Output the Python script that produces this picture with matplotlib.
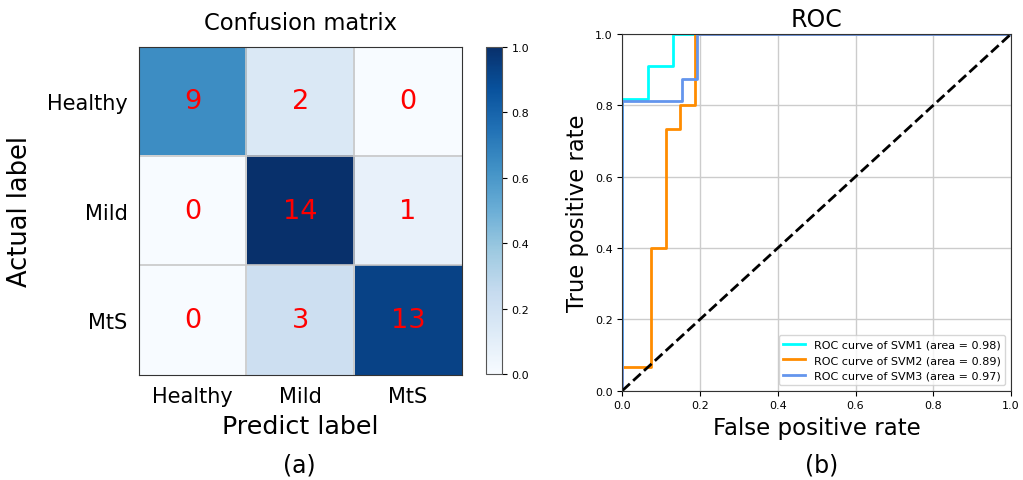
import matplotlib
matplotlib.use("Agg")
import matplotlib.pyplot as plt
import numpy as np

# confusion matrix counts (rows = actual, cols = predicted)
classes = ["Healthy", "Mild", "MtS"]
cm = np.array([[9, 2, 0],
               [0, 14, 1],
               [0, 3, 13]])

# ROC step curves
fpr_svm1 = [0, 0, 0.065, 0.065, 0.13, 0.13, 1]
tpr_svm1 = [0, 0.818, 0.818, 0.909, 0.909, 1, 1]
fpr_svm2 = [0, 0, 0.075, 0.075, 0.112, 0.112, 0.148, 0.148, 0.186, 0.186, 1]
tpr_svm2 = [0, 0.067, 0.067, 0.4, 0.4, 0.733, 0.733, 0.8, 0.8, 1, 1]
fpr_svm3 = [0, 0, 0.154, 0.154, 0.191, 0.191, 1]
tpr_svm3 = [0, 0.8125, 0.8125, 0.875, 0.875, 1, 1]
labels = ["ROC curve of SVM1 (area = 0.98)",
          "ROC curve of SVM2 (area = 0.89)",
          "ROC curve of SVM3 (area = 0.97)"]
colors = ["aqua", "darkorange", "cornflowerblue"]

fig = plt.figure(figsize=(10.23, 4.81), dpi=100)

# ---- (a) confusion matrix
ax1 = fig.add_axes([0.1356, 0.2189, 0.316, 0.682])
im = ax1.imshow(cm / cm.max(), cmap="Blues", vmin=0, vmax=1, aspect="auto")
for i in range(3):
    for j in range(3):
        ax1.text(j, i, str(cm[i, j]), ha="center", va="center",
                 color="red", fontsize=19.5)
ax1.set_xticks(range(3))
ax1.set_xticklabels(classes, fontsize=15)
ax1.set_yticks(range(3))
ax1.set_yticklabels(classes, fontsize=15)
ax1.tick_params(length=0, pad=8)
ax1.set_xticks([0.5, 1.5], minor=True)
ax1.set_yticks([0.5, 1.5], minor=True)
ax1.tick_params(which="minor", length=0)
ax1.grid(which="minor", color="#c8c8c8", linewidth=1.2)
ax1.set_xlabel("Predict label", fontsize=18.3, labelpad=6)
ax1.set_ylabel("Actual label", fontsize=18.5, labelpad=10)
ax1.set_title("Confusion matrix", fontsize=16.3, pad=13)
for s in ax1.spines.values():
    s.set_color("#333333")

cax = fig.add_axes([0.4751, 0.2204, 0.0156, 0.68])
cb = fig.colorbar(im, cax=cax, ticks=np.arange(0, 1.01, 0.2))
cb.ax.tick_params(labelsize=8)
cb.outline.set_edgecolor("#555555")

fig.text(0.293, 0.018, "(a)", ha="center", fontsize=17)

# ---- (b) ROC
ax2 = fig.add_axes([0.6083, 0.1857, 0.38, 0.7416])
ax2.plot(fpr_svm1, tpr_svm1, color=colors[0], lw=2, label=labels[0])
ax2.plot(fpr_svm2, tpr_svm2, color=colors[1], lw=2, label=labels[1])
ax2.plot(fpr_svm3, tpr_svm3, color=colors[2], lw=2, label=labels[2])
ax2.plot([0, 1], [0, 1], "k--", lw=2)
ax2.set_xlim(0, 1)
ax2.set_ylim(0, 1)
ax2.grid(color="#cccccc", linewidth=1)
ax2.tick_params(labelsize=8)
ax2.set_xlabel("False positive rate", fontsize=16.5)
ax2.set_ylabel("True positive rate", fontsize=16.3)
ax2.set_title("ROC", fontsize=17)
ax2.legend(loc="lower right", fontsize=8)
for s in ax2.spines.values():
    s.set_color("#333333")

fig.text(0.803, 0.018, "(b)", ha="center", fontsize=17)

fig.savefig("out.png", dpi=100)
